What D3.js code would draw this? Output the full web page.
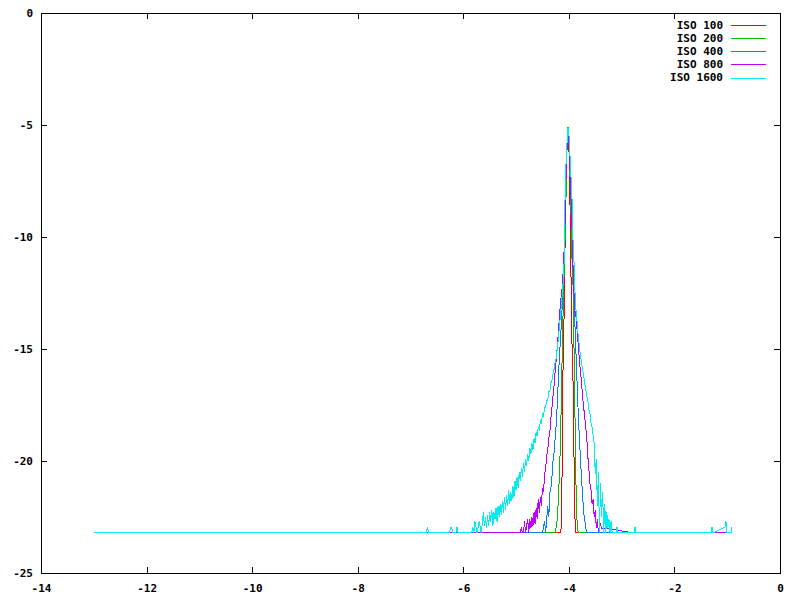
<!DOCTYPE html>
<html><head><meta charset="utf-8">
<script src="https://cdn.jsdelivr.net/npm/d3@7"></script>
<style>
body{margin:0;background:#fff}
svg{display:block}
text{font-family:"DejaVu Sans Mono",monospace;font-weight:bold;font-size:11px;fill:#000}
</style>
</head><body><svg id="c" width="800" height="600"></svg>
<script>
const seriesNames = ["ISO 100","ISO 200","ISO 400","ISO 800","ISO 1600"];
const seriesColors = ["#ff0000","#00c000","#0080ff","#c000ff","#00eeee"];
const xTicks = [-14,-12,-10,-8,-6,-4,-2,0];
const yTicks = [0,-5,-10,-15,-20,-25];

const iso100 = [[-13.0,-23.2],[-4.15,-23.2],[-4.13,-21.0],[-4.125,-18.5],[-4.11,-15.8],[-4.09,-13.5],[-4.07,-10.0],[-4.055,-7.5],[-4.04,-6.6],[-4.03,-5.7],[-4.016,-5.2],[-4.0,-5.7],[-3.985,-8.2],[-3.97,-9.0],[-3.955,-12.8],[-3.94,-14.8],[-3.925,-16.0],[-3.91,-17.8],[-3.895,-21.7],[-3.885,-22.5],[-3.875,-23.2],[-0.91,-23.2]];

const iso200 = [[-13.0,-23.2],[-4.26,-23.2],[-4.24,-22.95],[-4.22,-22.6],[-4.20,-21.8],[-4.18,-20.7],[-4.16,-19.2],[-4.14,-17.0],[-4.12,-14.4],[-4.10,-12.5],[-4.08,-10.8],[-4.06,-9.2],[-4.045,-6.8],[-4.03,-5.4],[-4.016,-5.1],[-4.0,-5.5],[-3.985,-6.3],[-3.97,-8.4],[-3.955,-9.2],[-3.94,-11.0],[-3.925,-11.6],[-3.91,-13.8],[-3.895,-16.0],[-3.88,-18.7],[-3.865,-21.0],[-3.85,-22.5],[-3.835,-23.0],[-3.82,-23.2],[-0.91,-23.2]];

const iso400 = [[-13.0,-23.2],[-4.50,-23.2],[-4.48,-22.95],[-4.46,-22.7],[-4.44,-23.2],[-4.42,-22.6],[-4.40,-22.0],[-4.38,-22.5],[-4.36,-21.4],[-4.34,-21.2],[-4.32,-20.7],[-4.30,-20.0],[-4.28,-19.6],[-4.26,-19.0],[-4.24,-18.4],[-4.22,-17.5],[-4.20,-16.4],[-4.18,-15.4],[-4.16,-14.6],[-4.14,-13.8],[-4.12,-12.8],[-4.10,-11.5],[-4.08,-10.5],[-4.06,-7.8],[-4.045,-6.5],[-4.03,-5.6],[-4.016,-5.25],[-4.0,-5.5],[-3.985,-6.0],[-3.97,-7.2],[-3.955,-8.2],[-3.94,-9.7],[-3.925,-11.0],[-3.91,-12.1],[-3.895,-13.4],[-3.88,-14.2],[-3.86,-15.5],[-3.84,-16.8],[-3.82,-18.0],[-3.80,-19.0],[-3.78,-19.9],[-3.76,-20.8],[-3.74,-21.5],[-3.72,-22.3],[-3.70,-22.6],[-3.68,-23.0],[-3.66,-23.2],[-0.91,-23.2]];

const iso800 = [[-13.0,-23.2],[-4.94,-23.2],[-4.92,-23.2],[-4.90,-22.95],[-4.88,-23.2],[-4.86,-23.2],[-4.84,-22.7],[-4.82,-23.2],[-4.80,-22.9],[-4.78,-22.6],[-4.76,-23.2],[-4.74,-22.6],[-4.72,-23.0],[-4.70,-22.5],[-4.68,-22.9],[-4.66,-22.3],[-4.64,-22.8],[-4.62,-22.1],[-4.60,-22.6],[-4.58,-21.7],[-4.56,-22.3],[-4.54,-21.6],[-4.52,-22.0],[-4.50,-21.2],[-4.48,-21.4],[-4.46,-20.6],[-4.44,-20.3],[-4.42,-19.8],[-4.40,-19.5],[-4.38,-19.0],[-4.36,-18.7],[-4.34,-18.1],[-4.32,-17.6],[-4.30,-17.1],[-4.28,-16.6],[-4.26,-16.0],[-4.24,-15.5],[-4.22,-14.9],[-4.20,-14.3],[-4.18,-13.6],[-4.16,-13.0],[-4.14,-12.5],[-4.12,-12.2],[-4.10,-11.0],[-4.08,-10.2],[-4.06,-8.0],[-4.045,-6.6],[-4.03,-5.8],[-4.016,-5.3],[-4.0,-5.6],[-3.985,-6.8],[-3.97,-7.3],[-3.955,-8.7],[-3.94,-9.6],[-3.925,-11.2],[-3.91,-12.0],[-3.895,-13.0],[-3.88,-13.4],[-3.86,-13.6],[-3.84,-14.3],[-3.82,-14.9],[-3.80,-15.5],[-3.78,-16.0],[-3.76,-16.5],[-3.74,-17.1],[-3.72,-17.6],[-3.70,-18.0],[-3.68,-18.5],[-3.66,-19.0],[-3.64,-19.8],[-3.62,-20.4],[-3.60,-21.0],[-3.58,-21.3],[-3.56,-21.9],[-3.54,-21.7],[-3.52,-22.5],[-3.50,-22.2],[-3.48,-23.0],[-3.46,-22.6],[-3.44,-23.2],[-3.42,-22.9],[-3.40,-22.8],[-3.38,-23.0],[-3.32,-23.0],[-2.80,-23.2],[-0.91,-23.2]];

const iso1600 = [[-13.0,-23.2],[-6.70,-23.2],[-6.68,-22.95],[-6.66,-23.2],[-6.26,-23.2],[-6.24,-22.95],[-6.22,-22.95],[-6.20,-23.2],[-6.14,-23.2],[-6.12,-22.95],[-6.10,-23.2],[-5.86,-23.2],
[-5.84,-23.2],[-5.82,-22.95],[-5.80,-23.2],[-5.78,-22.7],[-5.76,-22.95],[-5.74,-23.2],[-5.72,-23.0],[-5.70,-22.7],[-5.68,-22.95],[-5.66,-23.2],[-5.64,-22.8],[-5.62,-22.3],[-5.60,-22.9],[-5.58,-22.5],[-5.56,-23.0],[-5.54,-22.4],[-5.52,-22.9],[-5.50,-22.3],[-5.48,-22.7],[-5.46,-22.2],[-5.44,-22.9],[-5.42,-22.3],[-5.40,-22.6],[-5.38,-22.1],[-5.36,-22.7],[-5.34,-22.0],[-5.32,-22.5],[-5.30,-21.9],[-5.28,-22.4],[-5.26,-21.8],[-5.24,-22.3],[-5.22,-21.6],[-5.20,-22.2],[-5.18,-21.5],[-5.16,-22.0],[-5.14,-21.3],[-5.12,-21.9],[-5.10,-21.4],[-5.08,-21.8],[-5.06,-21.1],[-5.04,-21.6],[-5.02,-20.9],[-5.00,-21.3],[-4.98,-20.7],[-4.96,-21.2],[-4.94,-20.5],[-4.92,-20.9],[-4.90,-20.3],[-4.88,-20.7],[-4.86,-20.1],[-4.84,-20.5],[-4.82,-19.9],[-4.80,-20.2],[-4.78,-19.7],[-4.76,-20.0],[-4.74,-19.4],[-4.72,-19.7],[-4.70,-19.2],[-4.68,-19.5],[-4.66,-19.0],[-4.64,-19.2],[-4.62,-18.7],[-4.60,-18.9],[-4.58,-18.5],[-4.56,-18.6],[-4.54,-18.2],[-4.52,-18.3],[-4.50,-17.9],[-4.48,-18.0],[-4.46,-17.6],[-4.44,-17.6],[-4.42,-17.3],[-4.40,-17.3],[-4.38,-16.9],[-4.36,-16.9],[-4.34,-16.5],[-4.32,-16.4],[-4.30,-16.1],[-4.28,-15.9],[-4.26,-15.6],[-4.24,-15.4],[-4.22,-15.0],[-4.20,-14.6],[-4.18,-14.0],[-4.16,-13.5],[-4.14,-13.0],[-4.12,-12.4],
[-4.10,-11.8],[-4.08,-10.3],[-4.07,-7.6],[-4.045,-6.3],[-4.03,-5.6],[-4.016,-5.15],[-4.0,-5.3],[-3.985,-6.2],[-3.97,-6.6],[-3.955,-7.6],[-3.94,-8.3],[-3.925,-10.0],[-3.91,-10.6],[-3.895,-11.6],[-3.88,-12.7],
[-3.86,-13.4],[-3.84,-13.9],[-3.82,-14.5],[-3.80,-14.9],[-3.78,-15.3],[-3.76,-15.6],[-3.74,-15.9],[-3.72,-16.2],[-3.70,-16.5],[-3.68,-16.8],[-3.66,-17.1],[-3.64,-17.3],[-3.62,-17.7],[-3.60,-17.9],[-3.58,-18.3],[-3.56,-18.5],[-3.54,-18.9],[-3.52,-19.2],[-3.50,-20.6],[-3.48,-19.9],[-3.46,-22.0],[-3.44,-20.5],[-3.42,-23.2],[-3.40,-21.0],[-3.38,-22.5],[-3.36,-21.4],[-3.34,-23.2],[-3.32,-21.9],[-3.30,-23.2],[-3.28,-22.3],[-3.26,-23.0],[-3.24,-22.6],[-3.22,-23.2],[-3.20,-22.7],[-3.18,-23.2],
[-3.10,-23.2],[-3.088,-22.95],[-3.075,-23.2],[-2.76,-23.2],[-2.747,-22.95],[-2.735,-23.2],[-1.30,-23.2],[-1.288,-22.95],[-1.275,-23.2],[-1.25,-23.2],[-1.04,-22.95],[-1.023,-22.7],[-1.01,-23.2],[-0.925,-23.2],[-0.909,-22.95]];

const seriesData = [iso100, iso200, iso400, iso800, iso1600];

const L = 41, R = 780, T = 13, B = 573;
const svg = d3.select("#c");
const x = d3.scaleLinear().domain([-14, 0]).range([L, R]);
const y = d3.scaleLinear().domain([-25, 0]).range([B, T]);

// axes with inward (mirrored) ticks
const fmt = d => String(d);
svg.append("g").attr("transform", `translate(${L},0)`)
  .call(d3.axisLeft(y).tickValues(yTicks).tickSize(-6).tickPadding(8).tickFormat(fmt))
  .call(g => g.select(".domain").remove());
svg.append("g").attr("transform", `translate(${R},0)`)
  .call(d3.axisRight(y).tickValues(yTicks).tickSize(-6).tickFormat(""))
  .call(g => g.select(".domain").remove());
svg.append("g").attr("transform", `translate(0,${B})`)
  .call(d3.axisBottom(x).tickValues(xTicks).tickSize(-6).tickPadding(11).tickFormat(fmt))
  .call(g => g.select(".domain").remove());
svg.append("g").attr("transform", `translate(0,${T})`)
  .call(d3.axisTop(x).tickValues(xTicks).tickSize(-6).tickFormat(""))
  .call(g => g.select(".domain").remove());
svg.selectAll(".tick text").attr("font-family", null).attr("font-size", null);
svg.selectAll(".tick line").attr("stroke", "#000").attr("shape-rendering", "crispEdges");

// series
const line = d3.line().x(d => x(d[0])).y(d => y(d[1]));
svg.append("g").selectAll("path").data(seriesData).join("path")
  .attr("d", line)
  .attr("fill", "none")
  .attr("stroke", (d, i) => seriesColors[i])
  .attr("stroke-width", 1)
  .attr("shape-rendering", "crispEdges");

// frame
svg.append("rect").attr("x", L + 0.5).attr("y", T + 0.5)
  .attr("width", R - L).attr("height", B - T)
  .attr("fill", "none").attr("stroke", "#000").attr("stroke-width", 1)
  .attr("shape-rendering", "crispEdges");

// legend
const leg = svg.append("g");
seriesNames.forEach((name, i) => {
  const ly = 25 + 13.15 * i;
  leg.append("text").attr("x", 723).attr("y", ly).attr("dy", "0.35em")
    .attr("text-anchor", "end").text(name);
  leg.append("line").attr("x1", 731).attr("x2", 766)
    .attr("y1", Math.round(ly) + 0.5).attr("y2", Math.round(ly) + 0.5)
    .attr("stroke", seriesColors[i]).attr("stroke-width", 1);
});
</script>
</body></html>
